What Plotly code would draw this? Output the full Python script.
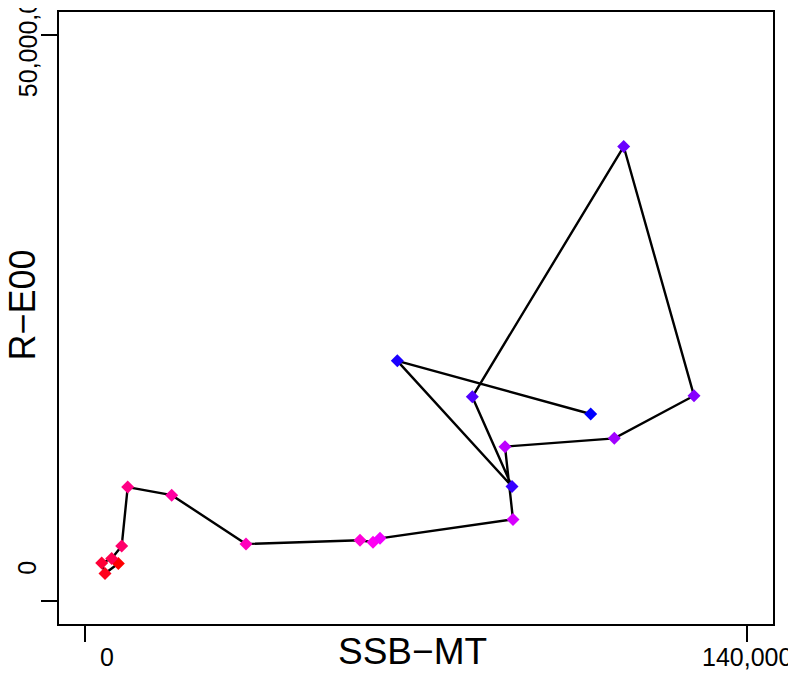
import plotly.graph_objects as go

# Data (SSB in MT, recruitment in E00), in time order
ssb = [6957, 4141, 3442, 5560, 7677, 8948, 18265, 33999, 58140, 60893,
       62375, 90539, 88845, 111990, 128868, 113981, 81921, 90327, 66038, 106992]
rec = [3.34e6, 2.46e6, 3.39e6, 3.78e6, 4.89e6, 10.08e6, 9.37e6, 5.06e6, 5.39e6, 5.21e6,
       5.56e6, 7.23e6, 13.65e6, 14.38e6, 18.14e6, 40.13e6, 18.05e6, 10.14e6, 21.22e6, 16.53e6]

# point colours: red -> magenta -> blue
point_colors = ["#FF0000", "#FF001B", "#FF0036", "#FF0051", "#FF006B", "#FF0086",
                "#FF00A1", "#FF00BC", "#FF00D7", "#FF00F2", "#F100FF", "#D700FF",
                "#BC00FF", "#A100FF", "#8600FF", "#6B00FF", "#5100FF", "#3600FF",
                "#1B00FF", "#0000FF"]

x_ticks = [0, 140000]
x_tick_labels = ["0", "140,000"]
y_ticks = [0, 50000000]
y_tick_labels = ["0", "50,000,000"]

FONT = "Liberation Sans, Arial, Helvetica, sans-serif"

fig = go.Figure()
fig.add_trace(go.Scatter(
    x=ssb, y=rec, mode="lines+markers",
    line=dict(color="black", width=2.4),
    marker=dict(symbol="diamond", size=10, color=point_colors, line=dict(width=0)),
    showlegend=False, hoverinfo="x+y",
))

axis_common = dict(
    showgrid=False, zeroline=False, showline=True, linecolor="black", linewidth=2,
    mirror=True, ticks="outside", ticklen=16, tickwidth=2, tickcolor="black",
    showticklabels=False,
)
fig.update_xaxes(range=[-5600, 145600], tickvals=x_ticks, **axis_common)
fig.update_yaxes(range=[-2e6, 52e6], tickvals=y_ticks, **axis_common)

ann = []
x_label_shift = [22, 0]
for v, t, s in zip(x_ticks, x_tick_labels, x_label_shift):
    ann.append(dict(x=v, xref="x", y=0, yref="paper", text=t, showarrow=False,
                    xanchor="center", yanchor="middle", xshift=s, yshift=-33,
                    font=dict(family=FONT, size=25, color="black")))
y_label_shift = [33, 0]
for v, t, s in zip(y_ticks, y_tick_labels, y_label_shift):
    ann.append(dict(x=0, xref="paper", y=v, yref="y", text=t, showarrow=False,
                    textangle=-90, xanchor="center", yanchor="middle",
                    xshift=-31.5, yshift=s,
                    font=dict(family=FONT, size=25, color="black")))
ann.append(dict(x=0.5, xref="paper", y=0, yref="paper", text="SSB\u2212MT",
                showarrow=False, xanchor="center", yanchor="middle",
                xshift=-4, yshift=-27.5,
                font=dict(family=FONT, size=37, color="black")))
ann.append(dict(x=0, xref="paper", y=0.5, yref="paper", text="R\u2212E00",
                showarrow=False, textangle=-90, xanchor="center", yanchor="middle",
                xshift=-37.5, yshift=13,
                font=dict(family=FONT, size=36, color="black")))

# page body has an 8px margin, so the figure is offset by 8px
fig.update_layout(
    width=788, height=667,
    margin=dict(l=51, r=23, t=2, b=51),
    plot_bgcolor="white", paper_bgcolor="white",
    annotations=ann,
    font=dict(family=FONT),
)

fig.write_html("out.html")
